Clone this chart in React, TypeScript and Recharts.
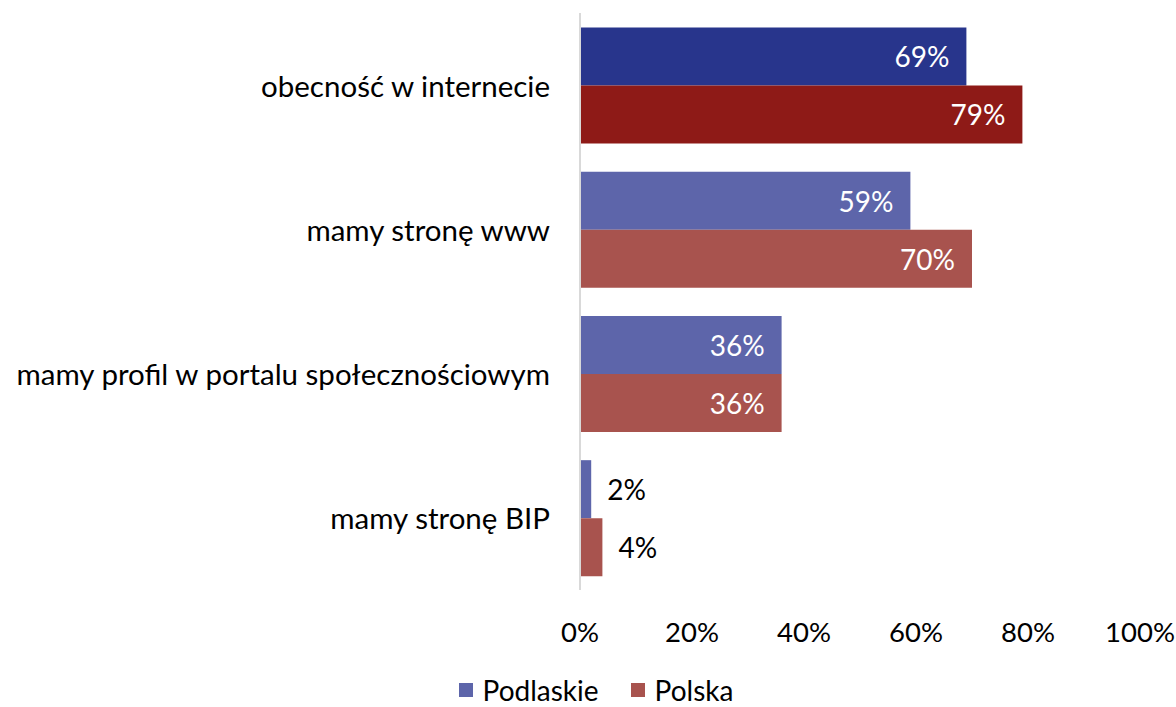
import { BarChart, Bar, XAxis, YAxis, Legend, Cell, LabelList } from "recharts";

const categories = [
  "obecność w internecie",
  "mamy stronę www",
  "mamy profil w portalu społecznościowym",
  "mamy stronę BIP",
];
const podlaskie = [69, 59, 36, 2];
const polska = [79, 70, 36, 4];
const xTicks = [0, 20, 40, 60, 80, 100];

const data = categories.map((name, i) => ({
  name,
  podlaskie: podlaskie[i],
  polska: polska[i],
}));

const FONT = "Lato, 'Open Sans', sans-serif";
const BLUE = "#5d65aa";
const RED = "#a8534e";
const BLUE_DARK = "#28358c";
const RED_DARK = "#8e1a17";

const ValueLabel = (props: any) => {
  const { x, y, width, height, value } = props;
  const inside = value > 10;
  return (
    <text
      x={inside ? x + width - 17 : x + width + 16}
      y={y + height / 2}
      textAnchor={inside ? "end" : "start"}
      dominantBaseline="central"
      fill={inside ? "#ffffff" : "#000000"}
      fontSize={28}
      fontFamily={FONT}
    >
      {value}%
    </text>
  );
};

const CatTick = (props: any) => {
  const { x, y, payload } = props;
  return (
    <text
      x={x - 22}
      y={y}
      textAnchor="end"
      dominantBaseline="central"
      fontSize={29.5}
      fontFamily={FONT}
      fill="#000"
    >
      {payload.value}
    </text>
  );
};

const XTick = (props: any) => {
  const { x, y, payload } = props;
  return (
    <text x={x} y={y + 44} textAnchor="middle" fontSize={27.5} fontFamily={FONT} fill="#000">
      {payload.value}%
    </text>
  );
};

const LegendContent = () => (
  <div
    style={{
      display: "flex",
      justifyContent: "center",
      alignItems: "center",
      fontFamily: FONT,
      fontSize: 28,
      lineHeight: "34px",
      color: "#000",
      gap: 32,
      paddingLeft: 52,
      height: 34,
    }}
  >
    {[
      ["Podlaskie", BLUE],
      ["Polska", RED],
    ].map(([label, color]) => (
      <div key={label} style={{ display: "flex", alignItems: "center" }}>
        <span style={{ width: 14, height: 14, background: color, marginRight: 10 }} />
        <span>{label}</span>
      </div>
    ))}
  </div>
);

export default function App() {
  return (
    <div style={{ position: "absolute", left: 0, top: 0, width: 1176, height: 707, background: "#fff" }}>
      <BarChart
        width={1176}
        height={707}
        data={data}
        layout="vertical"
        margin={{ top: 13, right: 36, bottom: 0, left: 0 }}
        barCategoryGap="10%"
        barGap={0}
      >
        <XAxis
          type="number"
          domain={[0, 100]}
          ticks={xTicks}
          axisLine={false}
          tickLine={false}
          tick={<XTick />}
          height={83}
          interval={0}
        />
        <YAxis
          type="category"
          dataKey="name"
          width={580}
          axisLine={{ stroke: "#d9d9d9", strokeWidth: 2 }}
          tickLine={false}
          tick={<CatTick />}
          interval={0}
        />
        <Legend
          verticalAlign="bottom"
          height={34}
          content={<LegendContent />}
        />
        <Bar dataKey="podlaskie" fill={BLUE} isAnimationActive={false}>
          {data.map((_, i) => (
            <Cell key={i} fill={i === 0 ? BLUE_DARK : BLUE} />
          ))}
          <LabelList dataKey="podlaskie" content={<ValueLabel />} />
        </Bar>
        <Bar dataKey="polska" fill={RED} isAnimationActive={false}>
          {data.map((_, i) => (
            <Cell key={i} fill={i === 0 ? RED_DARK : RED} />
          ))}
          <LabelList dataKey="polska" content={<ValueLabel />} />
        </Bar>
      </BarChart>
    </div>
  );
}
